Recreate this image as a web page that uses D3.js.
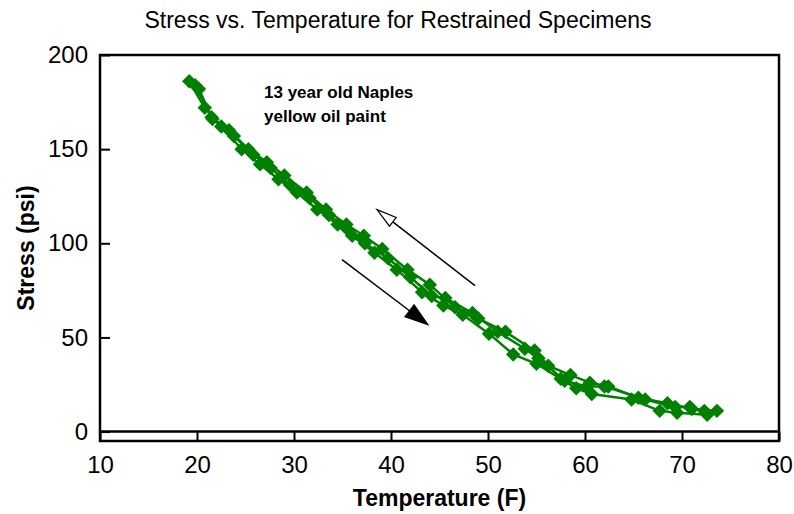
<!DOCTYPE html>
<html>
<head>
<meta charset="utf-8"/>
<script src="https://d3js.org/d3.v7.min.js"></script>
<style>
body { margin: 0; background: #fff; }
text { font-family: "Liberation Sans", Arial, Helvetica, sans-serif; }
</style>
</head>
<body>
<svg id="chart" width="794" height="514"></svg>
<script>
// temperature (F) and stress (psi) for each run
var run1Temp   = [19.2, 20.8, 22.5, 24.6, 26.5, 28.4, 30.3, 32.4, 34.5, 36.0, 38.3, 40.6, 43.2, 45.4, 47.4, 50.1, 52.6, 55.0, 57.5, 59.1, 60.7, 64.8, 67.7, 69.5, 72.6];
var run1Stress = [186, 172, 162, 150, 142, 134, 127, 118, 110, 104, 95, 86, 74, 67, 62, 52, 41, 36, 28, 23, 20, 17, 11, 10, 9];

var run2Temp   = [73.6, 71.0, 68.5, 65.5, 62.4, 60.5, 58.5, 56.2, 54.8, 51.8, 49.0, 46.6, 44.0, 41.7, 39.1, 37.2, 35.4, 33.3, 31.3, 29.0, 27.2, 25.3, 23.3, 21.5, 20.2];
var run2Stress = [11, 12, 15, 18, 24, 26, 30, 35, 43, 53, 60, 66, 78, 86, 97, 104, 110, 118, 127, 136, 143, 150, 160, 167, 182];

var run3Temp   = [19.8, 21.6, 23.8, 25.8, 27.6, 29.6, 31.6, 33.6, 35.4, 37.3, 39.7, 42.0, 44.2, 45.6, 48.4, 51.0, 53.8, 55.2, 57.9, 60.2, 62.0, 66.2, 69.3, 70.8, 72.3];
var run3Stress = [184, 166, 157, 147, 140, 131, 124, 115, 108, 100, 92, 82, 72, 71, 63, 53, 44, 39, 27, 24, 24, 17, 13, 13, 11];

var xTicks = [10, 20, 30, 40, 50, 60, 70, 80];
var yTicks = [0, 50, 100, 150, 200];

var title = "Stress vs. Temperature for Restrained Specimens";
var noteLines = ["13 year old Naples", "yellow oil paint"];

// arrows: [tailT, tailS, tipT, tipS]
var coolArrow = [48.66, 77.5, 38.56, 117.9];
var heatArrow = [34.95, 91.3, 43.8, 56.8];

var plotL = 100, plotR = 779, plotT = 55, plotB = 441;
var svg = d3.select("#chart");

var x = d3.scaleLinear().domain([10, 80]).range([plotL, plotR]);
var y = d3.scaleLinear().domain([-5, 200]).range([plotB, plotT]);

var runs = [[run1Temp, run1Stress], [run2Temp, run2Stress], [run3Temp, run3Stress]].map(function(r) {
  return r[0].map(function(t, i) { return {t: t, s: r[1][i]}; });
});

// title
svg.append("text")
  .attr("x", 398).attr("y", 28)
  .attr("text-anchor", "middle")
  .style("font-size", "23px")
  .text(title);

// series
var line = d3.line().x(function(d){ return x(d.t); }).y(function(d){ return y(d.s); });
var green = "#008000";
var diamond = d3.symbol().type(d3.symbolSquare).size(105);

runs.forEach(function(run) {
  svg.append("path")
    .datum(run)
    .attr("d", line)
    .attr("fill", "none")
    .attr("stroke", green)
    .attr("stroke-width", 2.5);
});
runs.forEach(function(run) {
  svg.append("g").selectAll("path")
    .data(run)
    .enter().append("path")
    .attr("d", diamond)
    .attr("transform", function(d){ return "translate(" + x(d.t) + "," + y(d.s) + ") rotate(45)"; })
    .attr("fill", green);
});

// frame
svg.append("rect")
  .attr("x", plotL).attr("y", plotT)
  .attr("width", plotR - plotL).attr("height", plotB - plotT)
  .attr("fill", "none").attr("stroke", "#000").attr("stroke-width", 2.5);

// x axis sits on stress = 0, ticks drop to the frame
var xAxisG = svg.append("g")
  .attr("transform", "translate(0," + y(0) + ")")
  .call(d3.axisBottom(x).tickValues(xTicks).tickSize(plotB - y(0)).tickPadding(15).tickFormat(d3.format("d")));
xAxisG.select(".domain").attr("stroke-width", 2.5).attr("d", "M" + plotL + ",0H" + plotR);
xAxisG.selectAll(".tick line").attr("stroke-width", 2);
xAxisG.selectAll(".tick text")
  .style("font-size", "24px")
  .attr("font-family", null)
  .attr("fill", "#000");

var yAxisG = svg.append("g")
  .attr("transform", "translate(" + plotL + ",0)")
  .call(d3.axisLeft(y).tickValues(yTicks).tickSize(-10).tickPadding(12).tickFormat(d3.format("d")));
yAxisG.select(".domain").remove();
yAxisG.selectAll(".tick line").attr("stroke-width", 2);
yAxisG.selectAll(".tick text")
  .style("font-size", "24px")
  .attr("font-family", null)
  .attr("fill", "#000");

// axis titles
svg.append("text")
  .attr("x", (plotL + plotR) / 2).attr("y", 506)
  .attr("text-anchor", "middle")
  .style("font-size", "23px").style("font-weight", "bold")
  .text("Temperature (F)");

svg.append("text")
  .attr("transform", "translate(34," + ((plotT + plotB) / 2) + ") rotate(-90)")
  .attr("text-anchor", "middle")
  .style("font-size", "23px").style("font-weight", "bold")
  .text("Stress (psi)");

// note
svg.append("g").selectAll("text")
  .data(noteLines)
  .enter().append("text")
  .attr("x", 264)
  .attr("y", function(d, i){ return 98 + i * 24; })
  .style("font-size", "17px").style("font-weight", "bold")
  .text(function(d){ return d; });

// arrows
function drawArrow(a, filled, headLen, headW) {
  var x0 = x(a[0]), y0 = y(a[1]), x1 = x(a[2]), y1 = y(a[3]);
  var ang = Math.atan2(y1 - y0, x1 - x0);
  var bx = x1 - headLen * Math.cos(ang), by = y1 - headLen * Math.sin(ang);
  var px = -Math.sin(ang) * headW / 2, py = Math.cos(ang) * headW / 2;
  svg.append("line")
    .attr("x1", x0).attr("y1", y0).attr("x2", bx).attr("y2", by)
    .attr("stroke", "#000").attr("stroke-width", 1.5);
  svg.append("path")
    .attr("d", "M" + x1 + "," + y1 + "L" + (bx + px) + "," + (by + py) + "L" + (bx - px) + "," + (by - py) + "Z")
    .attr("fill", filled ? "#000" : "#fff")
    .attr("stroke", "#000").attr("stroke-width", 1.2);
}
drawArrow(coolArrow, false, 20, 11);
drawArrow(heatArrow, true, 23, 15);
</script>
</body>
</html>
